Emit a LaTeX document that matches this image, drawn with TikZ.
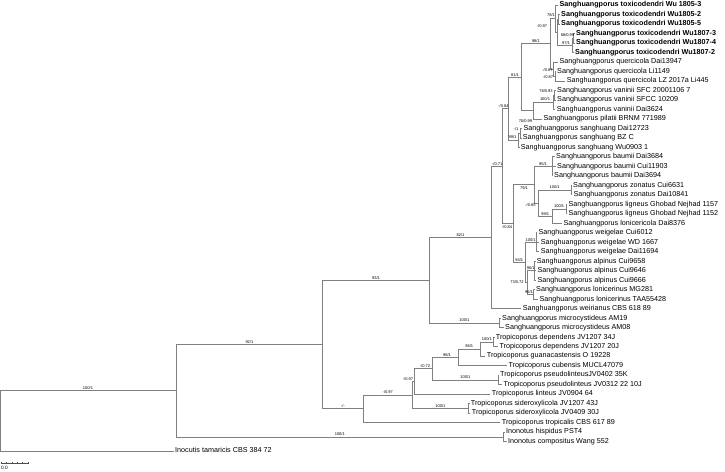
\documentclass[tikz,border=0pt]{standalone}
\usepackage{fontspec}
\setmainfont{Liberation Sans}
\usepackage{tikz}
\definecolor{branchgray}{gray}{0.5}

\begin{document}
\begin{tikzpicture}[x=1pt, y=-1pt,
  branch/.style={draw=branchgray, line width=0.7pt},
  taxon/.style={anchor=west, inner xsep=1.5pt, inner ysep=0pt,
    text height=5.2pt, text depth=1.5pt, font=\fontsize{7.2}{8}\selectfont},
  focal/.style={taxon, font=\fontsize{7.2}{8}\selectfont\bfseries},
  support/.style={inner sep=0pt, font=\fontsize{4}{4.5}\selectfont},
  scalebar/.style={draw=black!70, line width=0.5pt}
 ]
\useasboundingbox (0,0) rectangle (725,471);

% internal nodes
\coordinate (root) at (0.6,420.83);
\coordinate (nIng) at (176,390.66);
\coordinate (nTS) at (322.7,344.46);
\coordinate (nSan) at (429.3,280.19);
\coordinate (nS82) at (491.7,237.43);
\coordinate (nS71) at (502.7,166.15);
\coordinate (nU84) at (508.3,108.74);
\coordinate (n81) at (521.7,77.2);
\coordinate (n98) at (550,43.84);
\coordinate (nTox) at (555.5,18.66);
\coordinate (nTX) at (557,32.31);
\coordinate (nT23) at (558.3,19.25);
\coordinate (nT456) at (572.5,45.38);
\coordinate (nT45) at (573.8,38.25);
\coordinate (nQue) at (553.5,69.03);
\coordinate (nQ89) at (555,76.15);
\coordinate (n70) at (533.3,110.59);
\coordinate (nVan) at (553.5,102.28);
\coordinate (nV1011) at (554.5,95.15);
\coordinate (nSang) at (518.5,140.28);
\coordinate (nS1415) at (520.5,133.15);
\coordinate (nL84) at (513.3,223.56);
\coordinate (n79) at (534,184.7);
\coordinate (nBau) at (552,166.3);
\coordinate (n85) at (538.3,203.11);
\coordinate (nZon) at (571,190.05);
\coordinate (n99) at (552,216.18);
\coordinate (nLig) at (566.3,209.05);
\coordinate (n94) at (525,262.41);
\coordinate (nWei) at (536.3,242.25);
\coordinate (n73) at (527,282.58);
\coordinate (nAlp) at (534.5,270.7);
\coordinate (nLon) at (533.5,294.45);
\coordinate (nMic) at (499.5,322.95);
\coordinate (nTro) at (363.3,408.73);
\coordinate (nT97a) at (412.3,394.85);
\coordinate (nT97b) at (414.5,381.34);
\coordinate (nT72) at (432.7,368.58);
\coordinate (nT98) at (458.3,357.3);
\coordinate (nT96) at (480,349.0);
\coordinate (nDep) at (493.5,341.9);
\coordinate (nPse) at (498,379.85);
\coordinate (nSid) at (468.5,408.35);
\coordinate (nIno) at (503.5,436.85);

% taxa
\node[focal] (tox1) at (557.8,5.0) {Sanghuangporus toxicodendri Wu 1805-3};
\node[focal] (tox2) at (559.5,14.5) {Sanghuangporus toxicodendri Wu1805-2};
\node[focal] (tox3) at (559.5,24.0) {Sanghuangporus toxicodendri Wu1805-5};
\node[focal] (tox4) at (574.5,33.5) {Sanghuangporus toxicodendri Wu1807-3};
\node[focal] (tox5) at (574.5,43.0) {Sanghuangporus toxicodendri Wu1807-4};
\node[focal] (tox6) at (573.5,52.5) {Sanghuangporus toxicodendri Wu1807-2};
\node[taxon] (que1) at (557.8,61.9) {Sanghuangporus quercicola Dai13947};
\node[taxon] (que2) at (555.5,71.4) {Sanghuangporus quercicola Li1149};
\node[taxon] (que3) at (565.2,80.9) {Sanghuangporus quercicola LZ 2017a Li445};
\node[taxon] (van1) at (555.5,90.4) {Sanghuangporus vaninii SFC 20001106 7};
\node[taxon] (van2) at (555.5,99.9) {Sanghuangporus vaninii SFCC 10209};
\node[taxon] (van3) at (555.2,109.4) {Sanghuangporus vaninii Dai3624};
\node[taxon] (pil) at (541.8,118.9) {Sanghuangporus pilatii BRNM 771989};
\node[taxon] (san1) at (521.8,128.4) {Sanghuangporus sanghuang Dai12723};
\node[taxon] (san2) at (521.2,137.9) {Sanghuangporus sanghuang BZ C};
\node[taxon] (san3) at (519.2,147.4) {Sanghuangporus sanghuang Wu0903 1};
\node[taxon] (bau1) at (554.5,156.8) {Sanghuangporus baumii Dai3684};
\node[taxon] (bau2) at (555.5,166.3) {Sanghuangporus baumii Cui11903};
\node[taxon] (bau3) at (552.5,175.8) {Sanghuangporus baumii Dai3694};
\node[taxon] (zon1) at (571.5,185.3) {Sanghuangporus zonatus Cui6631};
\node[taxon] (zon2) at (571.8,194.8) {Sanghuangporus zonatus Dai10841};
\node[taxon] (lig1) at (566.8,204.3) {Sanghuangporus ligneus Ghobad Nejhad 1157};
\node[taxon] (lig2) at (566.8,213.8) {Sanghuangporus ligneus Ghobad Nejhad 1152};
\node[taxon] (lcc) at (561.8,223.3) {Sanghuangporus lonicericola Dai8376};
\node[taxon] (wei1) at (536.8,232.8) {Sanghuangporus weigelae Cui6012};
\node[taxon] (wei2) at (539.2,242.3) {Sanghuangporus weigelae WD 1667};
\node[taxon] (wei3) at (539.2,251.7) {Sanghuangporus weigelae Dai11694};
\node[taxon] (alp1) at (535.2,261.2) {Sanghuangporus alpinus Cui9658};
\node[taxon] (alp2) at (535.8,270.7) {Sanghuangporus alpinus Cui9646};
\node[taxon] (alp3) at (535.8,280.2) {Sanghuangporus alpinus Cui9666};
\node[taxon] (lon1) at (534.5,289.7) {Sanghuangporus lonicerinus MG281};
\node[taxon] (lon2) at (537.8,299.2) {Sanghuangporus lonicerinus TAA55428};
\node[taxon] (wer) at (521.2,308.7) {Sanghuangporus weirianus CBS 618 89};
\node[taxon] (mic1) at (500.5,318.2) {Sanghuangporus microcystideus AM19};
\node[taxon] (mic2) at (503.5,327.7) {Sanghuangporus microcystideus AM08};
\node[taxon] (dep1) at (494.2,337.2) {Tropicoporus dependens JV1207 34J};
\node[taxon] (dep2) at (497.8,346.6) {Tropicoporus dependens JV1207 20J};
\node[taxon] (gua) at (485.2,356.1) {Tropicoporus guanacastensis O 19228};
\node[taxon] (cub) at (506.8,365.6) {Tropicoporus cubensis MUCL47079};
\node[taxon] (pse1) at (498.5,375.1) {Tropicoporus pseudolinteusJV0402 35K};
\node[taxon] (pse2) at (501.8,384.6) {Tropicoporus pseudolinteus JV0312 22 10J};
\node[taxon] (lin) at (490.2,394.1) {Tropicoporus linteus JV0904 64};
\node[taxon] (sid1) at (469.2,403.6) {Tropicoporus sideroxylicola JV1207 43J};
\node[taxon] (sid2) at (470.2,413.1) {Tropicoporus sideroxylicola JV0409 30J};
\node[taxon] (tro) at (500.2,422.6) {Tropicoporus tropicalis CBS 617 89};
\node[taxon] (ino1) at (504.5,432.1) {Inonotus hispidus PST4};
\node[taxon] (ino2) at (506.5,441.6) {Inonotus compositus Wang 552};
\node[taxon] (inc) at (173.5,451.0) {Inocutis tamaricis CBS 384 72};

% branches
\draw[branch] (root) |- (nIng) (root) |- (inc.west);
\draw[branch] (nIng) |- (nTS) (nIng) |- (nIno);
\draw[branch] (nTS) |- (nSan) (nTS) |- (nTro);
\draw[branch] (nSan) |- (nS82) (nSan) |- (nMic);
\draw[branch] (nS82) |- (nS71) (nS82) |- (wer.west);
\draw[branch] (nS71) |- (nU84) (nS71) |- (nL84);
\draw[branch] (nU84) |- (n81) (nU84) |- (nSang);
\draw[branch] (n81) |- (n98) (n81) |- (n70);
\draw[branch] (n98) |- (nTox) (n98) |- (nQue);
\draw[branch] (nTox) |- (tox1.west) (nTox) |- (nTX);
\draw[branch] (nTX) |- (nT23) (nTX) |- (nT456);
\draw[branch] (nT23) |- (tox2.west) (nT23) |- (tox3.west);
\draw[branch] (nT456) |- (nT45) (nT456) |- (tox6.west);
\draw[branch] (nT45) |- (tox4.west) (nT45) |- (tox5.west);
\draw[branch] (nQue) |- (que1.west) (nQue) |- (nQ89);
\draw[branch] (nQ89) |- (que2.west) (nQ89) |- (que3.west);
\draw[branch] (n70) |- (nVan) (n70) |- (pil.west);
\draw[branch] (nVan) |- (nV1011) (nVan) |- (van3.west);
\draw[branch] (nV1011) |- (van1.west) (nV1011) |- (van2.west);
\draw[branch] (nSang) |- (nS1415) (nSang) |- (san3.west);
\draw[branch] (nS1415) |- (san1.west) (nS1415) |- (san2.west);
\draw[branch] (nL84) |- (n79) (nL84) |- (n94);
\draw[branch] (n79) |- (nBau) (n79) |- (n85);
\draw[branch] (nBau) |- (bau1.west) (nBau) |- (bau2.west) (nBau) |- (bau3.west);
\draw[branch] (n85) |- (nZon) (n85) |- (n99);
\draw[branch] (nZon) |- (zon1.west) (nZon) |- (zon2.west);
\draw[branch] (n99) |- (nLig) (n99) |- (lcc.west);
\draw[branch] (nLig) |- (lig1.west) (nLig) |- (lig2.west);
\draw[branch] (n94) |- (nWei) (n94) |- (n73);
\draw[branch] (nWei) |- (wei1.west) (nWei) |- (wei2.west) (nWei) |- (wei3.west);
\draw[branch] (n73) |- (nAlp) (n73) |- (nLon);
\draw[branch] (nAlp) |- (alp1.west) (nAlp) |- (alp2.west) (nAlp) |- (alp3.west);
\draw[branch] (nLon) |- (lon1.west) (nLon) |- (lon2.west);
\draw[branch] (nMic) |- (mic1.west) (nMic) |- (mic2.west);
\draw[branch] (nTro) |- (nT97a) (nTro) |- (tro.west);
\draw[branch] (nT97a) |- (nT97b) (nT97a) |- (nSid);
\draw[branch] (nT97b) |- (nT72) (nT97b) |- (lin.west);
\draw[branch] (nT72) |- (nT98) (nT72) |- (nPse);
\draw[branch] (nT98) |- (nT96) (nT98) |- (cub.west);
\draw[branch] (nT96) |- (nDep) (nT96) |- (gua.west);
\draw[branch] (nDep) |- (dep1.west) (nDep) |- (dep2.west);
\draw[branch] (nPse) |- (pse1.west) (nPse) |- (pse2.west);
\draw[branch] (nSid) |- (sid1.west) (nSid) |- (sid2.west);
\draw[branch] (nIno) |- (ino1.west) (nIno) |- (ino2.west);

% support values
\node[support] (sIng) at (88,388.1) {100/1};
\node[support] (sTS) at (249.4,341.9) {92/1};
\node[support] (sIno) at (339.8,434.3) {100/1};
\node[support] (sSan) at (376,277.6) {93/1};
\node[support] (sS82) at (460.5,234.8) {82/1};
\node[support] (sMic) at (464.4,320.4) {100/1};
\node[support] (sS71) at (497.2,163.6) {-/0.71};
\node[support] (sU84) at (503.5,106.1) {-/0.84};
\node[support] (sL84) at (507,227) {-/0.84};
\node[support] (s81) at (515,74.6) {81/1};
\node[support] (s98) at (535.9,41.2) {98/1};
\node[support] (s70) at (525.5,121.5) {70/0.99};
\node[support] (sVan) at (545,99.5) {100/1};
\node[support] (sV1011) at (546,91.5) {78/0.93};
\node[support] (sQue) at (547.5,70.5) {-/0.87};
\node[support] (sQ89) at (548,77.5) {-/0.87};
\node[support] (sTX) at (542,26) {-/0.97};
\node[support] (sT23) at (551,15.5) {78/1};
\node[support] (sT45) at (567.5,35) {88/0.99};
\node[support] (sT456) at (566,42.8) {97/1};
\node[support] (sS1415) at (516,129) {-/1};
\node[support] (sSang) at (512.5,137.5) {99/1};
\node[support] (sBau) at (543,163.7) {95/1};
\node[support] (s79) at (524,188) {79/1};
\node[support] (s85) at (530.5,205.5) {-/0.85};
\node[support] (sZon) at (554.7,187.5) {100/1};
\node[support] (sLig) at (559.2,206.5) {100/1};
\node[support] (s99) at (545.2,213.6) {99/1};
\node[support] (sWei) at (530.6,239.7) {100/1};
\node[support] (s94) at (519.2,260) {94/1};
\node[support] (sAlp) at (530.8,268.3) {96/1};
\node[support] (s73) at (517,282.5) {73/0.72};
\node[support] (sLon) at (529,292) {96/1};
\node[support] (sTro) at (343,406.1) {-/-};
\node[support] (sT97a) at (387.8,392.3) {-/0.97};
\node[support] (sT97b) at (408,378.8) {-/0.97};
\node[support] (sT72) at (425,366) {-/0.72};
\node[support] (sT98) at (447,354.7) {98/1};
\node[support] (sT96) at (469.2,346.4) {96/1};
\node[support] (sDep) at (486.8,339.3) {100/1};
\node[support] (sPse) at (465.4,377.3) {100/1};
\node[support] (sSid) at (440.4,405.8) {100/1};

% scale bar
\coordinate (sbL) at (1,463.5);
\coordinate (sbR) at (28,463.5);
\draw[scalebar] (sbL) -- (sbR);
\draw[scalebar] (1,463.5) -- (1,461.8) (6.4,463.5) -- (6.4,462.3) (11.8,463.5) -- (11.8,462.3)
  (17.2,463.5) -- (17.2,462.3) (22.6,463.5) -- (22.6,462.3) (28,463.5) -- (28,461.8);
\node[inner sep=0pt, font=\fontsize{4.8}{5}\selectfont] (sbText) at (4.4,468.3) {0.0};
\end{tikzpicture}
\end{document}
